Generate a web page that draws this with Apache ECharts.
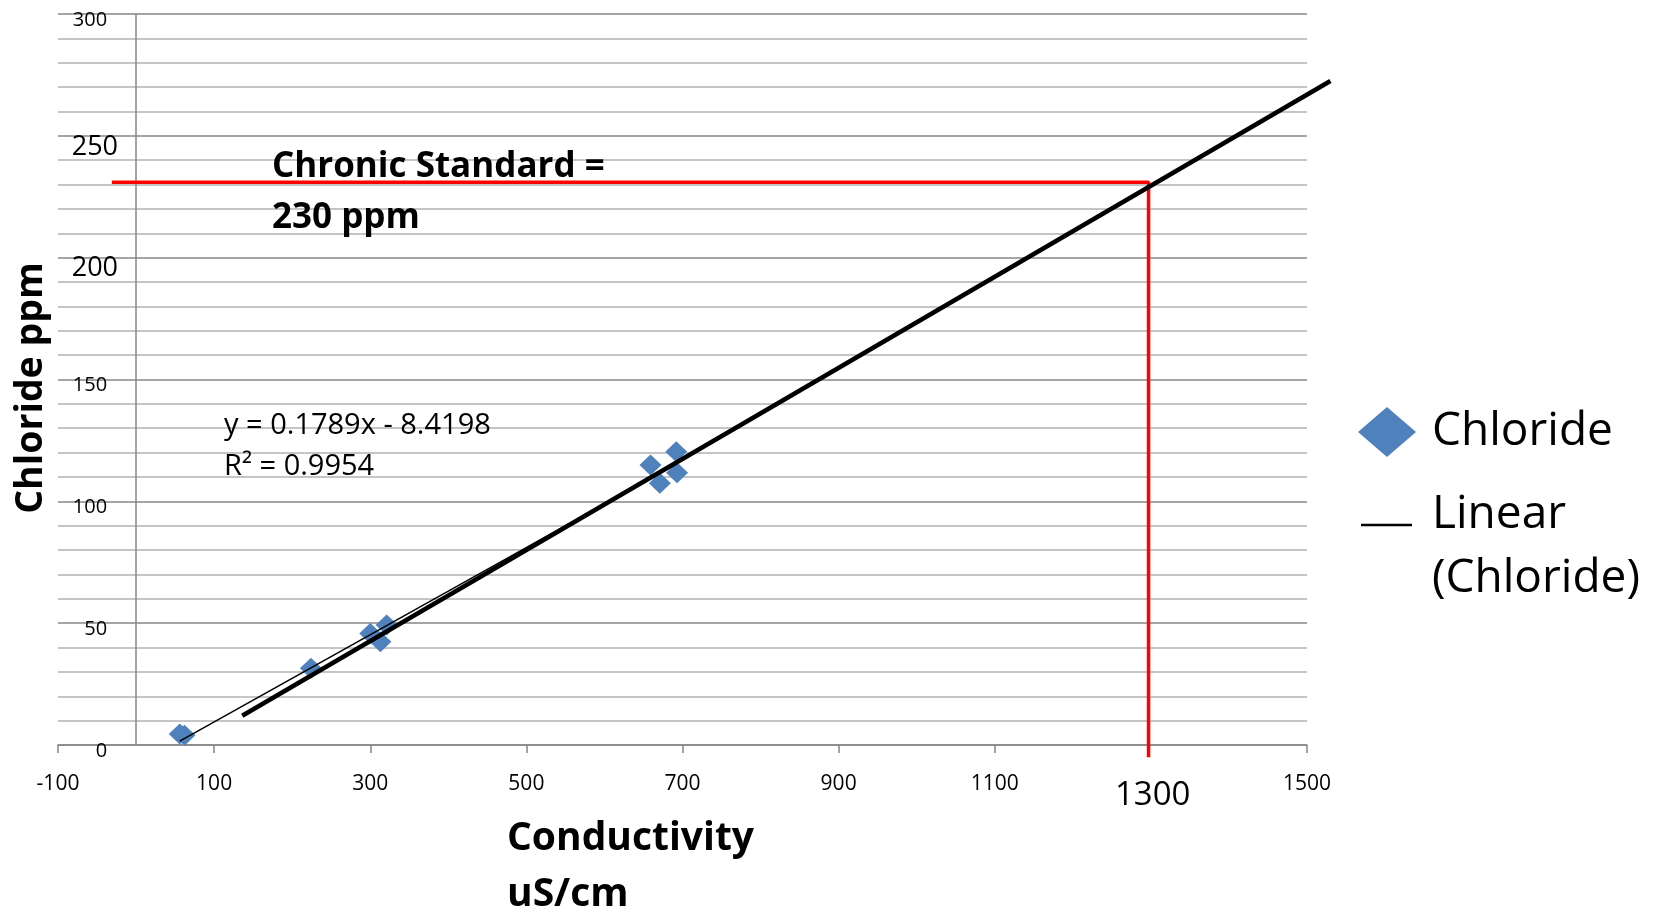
<!DOCTYPE html>
<html>
<head>
<meta charset="utf-8">
<script src="https://cdn.jsdelivr.net/npm/echarts@6.0.0/dist/echarts.min.js"></script>
<style>
  html, body { margin: 0; padding: 0; background: #fff; }
  #chart { width: 1658px; height: 911px; }
</style>
</head>
<body>
<div id="chart"></div>
<script>
// ---- data ----
const chlorideX = [56, 62, 224, 300, 313, 321, 659, 671, 692, 693];
const chlorideY = [4.5, 4, 31.5, 45.8, 42.4, 49.2, 114.9, 107.4, 120.4, 111.7];
const trendSlope = 0.1789;
const trendIntercept = -8.4198;
const handLineX = [136, 1530];
const handLineY = [12, 272.5];
const standardX = [-31, 1297, 1297];
const standardY = [231, 231, -5];
const xTicks = [-100, 100, 300, 500, 700, 900, 1100, 1500];
const bigYLabels = [250, 200];

const FONT = "'Open Sans', 'DejaVu Sans', sans-serif";

// layout of the plot (pixels)
const GL = 58, GR = 351, GT = 14, GB = 166;
const XMIN = -100, XMAX = 1500, XMAX_EXT = 1540;
const plotW = 1658 - GL - GR;
const pxPerUnit = plotW / (XMAX - XMIN);

const scatterData = chlorideX.map((x, i) => [x, chlorideY[i]]);
const minX = Math.min(...chlorideX), maxX = Math.max(...chlorideX);
const trendData = [[minX, trendSlope * minX + trendIntercept], [maxX, trendSlope * maxX + trendIntercept]];
const handData = handLineX.map((x, i) => [x, handLineY[i]]);
const standardData = standardX.map((x, i) => [x, standardY[i]]);

const chart = echarts.init(document.getElementById('chart'));
chart.setOption({
  animation: false,
  textStyle: { fontFamily: FONT },
  grid: [
    { left: GL, right: GR, top: GT, bottom: GB, containLabel: false, outerBoundsMode: 'none' },
    { left: GL, right: GR - (XMAX_EXT - XMAX) * pxPerUnit, top: GT, bottom: GB, containLabel: false, outerBoundsMode: 'none' }
  ],
  xAxis: [{
    type: 'value', min: XMIN, max: XMAX, gridIndex: 0,
    axisLine: { onZero: false, lineStyle: { color: '#868686', width: 1.5 } },
    axisTick: { show: true, length: 8, customValues: xTicks, lineStyle: { color: '#868686', width: 1.5 } },
    axisLabel: { customValues: xTicks, margin: 29, fontSize: 21, color: '#000', fontFamily: FONT, formatter: v => String(v) },
    splitLine: { show: false }
  }, {
    type: 'value', min: XMIN, max: XMAX_EXT, gridIndex: 1, show: false,
    splitLine: { show: false }
  }],
  yAxis: [{
    type: 'value', min: 0, max: 300, interval: 50, gridIndex: 0,
    offset: -(0 - XMIN) * pxPerUnit,
    axisLine: { show: true, onZero: false, lineStyle: { color: '#868686', width: 1.5 } },
    axisTick: { show: false },
    axisLabel: {
      margin: 18, color: '#000', fontFamily: FONT,
      formatter: v => bigYLabels.includes(v) ? '{big|' + v + '}' : '{small|' + v + '}',
      rich: {
        big: { fontSize: 27, padding: [22, 0, 0, 0], color: '#000', fontFamily: FONT },
        small: { fontSize: 20, padding: [12, 11, 0, 0], color: '#000', fontFamily: FONT }
      }
    },
    splitLine: { show: true, lineStyle: { color: '#878787', width: 1.5 } },
    minorTick: { show: false, splitNumber: 5 },
    minorSplitLine: { show: true, lineStyle: { color: '#b3b3b3', width: 1.5 } }
  }, {
    type: 'value', min: 0, max: 300, gridIndex: 1, show: false,
    splitLine: { show: false }
  }],
  legend: [
    {
      data: [{ name: 'Chloride', icon: 'diamond' }],
      left: 1353, top: 402, orient: 'vertical',
      itemWidth: 58, itemHeight: 50,
      textStyle: { fontSize: 46, color: '#000', fontFamily: FONT, padding: [0, 0, 0, 11], lineHeight: 50 }
    },
    {
      data: [{ name: 'Linear (Chloride)', icon: 'rect' }],
      left: 1356, top: 515, orient: 'vertical',
      itemWidth: 51, itemHeight: 2.5,
      formatter: () => ' ',
      itemStyle: { color: '#000' },
      textStyle: { fontSize: 10, lineHeight: 10, color: '#000', fontFamily: FONT }
    }
  ],
  series: [
    {
      name: 'Chloride', type: 'scatter', data: scatterData,
      symbol: 'diamond', symbolSize: [22, 21],
      itemStyle: { color: '#4f81bd', opacity: 1 }, z: 2
    },
    {
      name: 'Standard', type: 'line', data: standardData, clip: false,
      symbol: 'none', lineStyle: { color: '#ff0000', width: 3.5 }, z: 3, silent: true
    },
    {
      name: 'Linear (Chloride)', type: 'line', data: trendData,
      symbol: 'none', lineStyle: { color: '#000', width: 1.5 }, itemStyle: { color: '#000' }, z: 4
    },
    {
      name: 'Hand line', type: 'line', data: handData, clip: false,
      xAxisIndex: 1, yAxisIndex: 1,
      symbol: 'none', lineStyle: { color: '#000', width: 4.5 }, z: 5, silent: true
    }
  ],
  graphic: [
    { type: 'text', left: 272, top: 150, z: 10,
      style: { text: 'Chronic Standard =', font: "bold 35px 'Open Sans'", fill: '#000' } },
    { type: 'text', left: 272, top: 201, z: 10,
      style: { text: '230 ppm', font: "bold 35px 'Open Sans'", fill: '#000' } },
    { type: 'text', left: 224, top: 411, z: 10,
      style: { text: 'y = 0.1789x - 8.4198', font: "29px 'Open Sans'", fill: '#000' } },
    { type: 'text', left: 224, top: 452, z: 10,
      style: { text: 'R² = 0.9954', font: "29px 'Open Sans'", fill: '#000' } },
    { type: 'text', left: 507, top: 819, z: 10,
      style: { text: 'Conductivity', font: "bold 39px 'Open Sans'", fill: '#000' } },
    { type: 'text', left: 507, top: 875, z: 10,
      style: { text: 'uS/cm', font: "bold 39px 'Open Sans'", fill: '#000' } },
    { type: 'text', x: 31, y: 388, rotation: Math.PI / 2, z: 10,
      style: { text: 'Chloride ppm', font: "bold 37.5px 'Open Sans'", fill: '#000', align: 'center', verticalAlign: 'middle' } },
    { type: 'text', left: 1115, top: 779, z: 10,
      style: { text: '1300', font: "33px 'Open Sans'", fill: '#000' } },
    { type: 'text', left: 1432, top: 492, z: 10,
      style: { text: 'Linear', font: "46px 'Open Sans'", fill: '#000' } },
    { type: 'text', left: 1432, top: 556, z: 10,
      style: { text: '(Chloride)', font: "46px 'Open Sans'", fill: '#000' } }
  ]
});
</script>
</body>
</html>
